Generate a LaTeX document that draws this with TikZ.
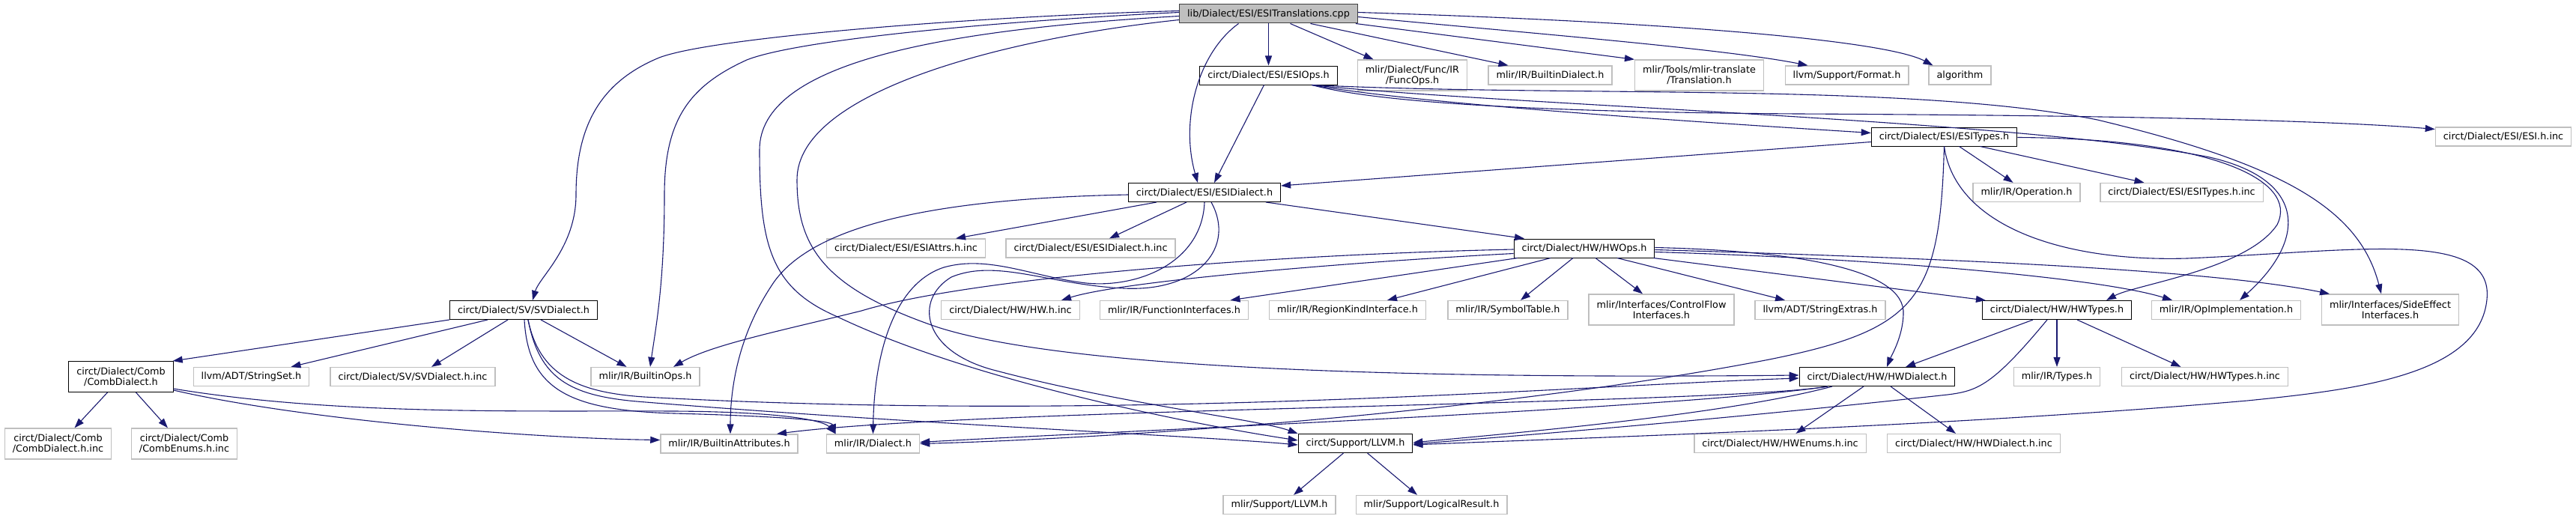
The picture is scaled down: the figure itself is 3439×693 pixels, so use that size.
\documentclass[tikz,border=0pt]{standalone}
\usepackage{fontspec}
\setmainfont{DejaVu Sans}
\usetikzlibrary{arrows.meta, positioning}
\definecolor{edgeblue}{RGB}{25,25,112}
\definecolor{boxgray}{RGB}{191,191,191}
\definecolor{rootgray}{RGB}{191,191,191}

\begin{document}
\begin{tikzpicture}[x=1pt, y=-1pt,
  hdr/.style={rectangle, draw=black, line width=1pt, inner xsep=10.5pt, inner ysep=2pt, minimum height=25pt, align=center, font=\fontsize{12.8}{14}\selectfont},
  ext/.style={hdr, draw=boxgray, line width=1.3pt},
  src/.style={hdr, draw=black!75, fill=rootgray},
  tall/.style={minimum height=41pt},
  arr/.style={-{Triangle[length=13pt, width=9pt]}, draw=edgeblue, line width=1.1pt}
]
\useasboundingbox (0,0) rectangle (3439,693);
\node[src] (root) at (1693.5,18.5) {lib/Dialect/ESI/ESITranslations.cpp};
\node[hdr] (esiops) at (1693.5,100.5) {circt/Dialect/ESI/ESIOps.h};
\node[ext, tall] (funcops) at (1885.5,100.5) {mlir/Dialect/Func/IR\\/FuncOps.h};
\node[ext] (bdialect) at (2069.5,100.5) {mlir/IR/BuiltinDialect.h};
\node[ext, tall] (translation) at (2268.5,100.5) {mlir/Tools/mlir-translate\\/Translation.h};
\node[ext] (format) at (2465.5,100.5) {llvm/Support/Format.h};
\node[ext] (algorithm) at (2616.5,100.5) {algorithm};
\node[hdr] (esitypes) at (2595.5,182.5) {circt/Dialect/ESI/ESITypes.h};
\node[ext] (esihinc) at (3342,182.5) {circt/Dialect/ESI/ESI.h.inc};
\node[hdr] (esidialect) at (1608,257) {circt/Dialect/ESI/ESIDialect.h};
\node[ext] (operation) at (2705.5,257) {mlir/IR/Operation.h};
\node[ext] (esitypesinc) at (2912.5,257) {circt/Dialect/ESI/ESITypes.h.inc};
\node[ext] (esiattrs) at (1209.5,331.5) {circt/Dialect/ESI/ESIAttrs.h.inc};
\node[ext] (esidialectinc) at (1456,331.5) {circt/Dialect/ESI/ESIDialect.h.inc};
\node[hdr] (hwops) at (2115,331.5) {circt/Dialect/HW/HWOps.h};
\node[hdr] (svdialect) at (699,414) {circt/Dialect/SV/SVDialect.h};
\node[ext] (hwinc) at (1349,414) {circt/Dialect/HW/HW.h.inc};
\node[ext] (funciface) at (1567.5,414) {mlir/IR/FunctionInterfaces.h};
\node[ext] (regionkind) at (1799,414) {mlir/IR/RegionKindInterface.h};
\node[ext] (symtable) at (2013,414) {mlir/IR/SymbolTable.h};
\node[ext, tall] (ctrlflow) at (2218,413.5) {mlir/Interfaces/ControlFlow\\Interfaces.h};
\node[ext] (strextras) at (2430,414) {llvm/ADT/StringExtras.h};
\node[hdr] (hwtypes) at (2746,414) {circt/Dialect/HW/HWTypes.h};
\node[ext] (opimpl) at (2972,414) {mlir/IR/OpImplementation.h};
\node[ext, tall] (sideeffect) at (3191,413.5) {mlir/Interfaces/SideEffect\\Interfaces.h};
\node[hdr, tall] (comb) at (161.5,503) {circt/Dialect/Comb\\/CombDialect.h};
\node[ext] (strset) at (335.5,503) {llvm/ADT/StringSet.h};
\node[ext] (svinc) at (551,503) {circt/Dialect/SV/SVDialect.h.inc};
\node[ext] (builtinops) at (861.5,503) {mlir/IR/BuiltinOps.h};
\node[hdr] (hwdialect) at (2506,503) {circt/Dialect/HW/HWDialect.h};
\node[ext] (types) at (2746,503) {mlir/IR/Types.h};
\node[ext] (hwtypesinc) at (2943.5,503) {circt/Dialect/HW/HWTypes.h.inc};
\node[ext, tall] (combinc) at (77.5,592.5) {circt/Dialect/Comb\\/CombDialect.h.inc};
\node[ext, tall] (combenums) at (246,592.5) {circt/Dialect/Comb\\/CombEnums.h.inc};
\node[ext] (battrs) at (973.5,592.5) {mlir/IR/BuiltinAttributes.h};
\node[ext] (dialect) at (1165.5,592.5) {mlir/IR/Dialect.h};
\node[hdr] (llvm) at (1809.5,592) {circt/Support/LLVM.h};
\node[ext] (hwenums) at (2376.5,592) {circt/Dialect/HW/HWEnums.h.inc};
\node[ext] (hwdialectinc) at (2635,592) {circt/Dialect/HW/HWDialect.h.inc};
\node[ext] (mlirllvm) at (1708,674) {mlir/Support/LLVM.h};
\node[ext] (logical) at (1911,674) {mlir/Support/LogicalResult.h};

\draw[arr] (root) -- (esiops);
\draw[arr] ([xshift=-40pt]root.south) .. controls (1600,70) and (1575,160) .. ([xshift=-9pt]esidialect.north);
\draw[arr] ([xshift=29pt]root.south) -- ([xshift=-52pt]funcops.north);
\draw[arr] ([xshift=56pt]root.south) -- ([xshift=-56pt]bdialect.north);
\draw[arr] ([xshift=-3pt]root.south east) -- (translation.north west);
\draw[arr] ([yshift=-4pt]root.east) .. controls (2050,45) and (2300,65) .. ([xshift=-52pt]format.north);
\draw[arr] ([yshift=2pt]root.east) .. controls (2250,30) and (2520,55) .. ([xshift=-36pt]algorithm.north);
\draw[arr] ([yshift=4pt]root.west) .. controls (1300,22) and (950,50) .. (880,77) .. controls (800,110) and (769,170) .. (769,260) .. controls (769,330) and (720,370) .. ([xshift=12pt]svdialect.north);
\draw[arr] ([yshift=2pt]root.west) .. controls (1300,30) and (1060,55) .. (997,80) .. controls (920,115) and (887,160) .. (887,260) .. controls (887,380) and (875,440) .. ([xshift=6.5pt]builtinops.north);
\draw[arr] ([yshift=-3pt]root.west) .. controls (1250,40) and (1014,85) .. (1014,200) .. controls (1014,330) and (1030,385) .. (1118,423) .. controls (1300,510) and (1600,568) .. ([yshift=4pt]llvm.west);
\draw[arr] ([yshift=-8pt]root.west) .. controls (1350,50) and (1064,120) .. (1064,240) .. controls (1064,330) and (1100,385) .. (1252,437) .. controls (1450,500) and (2000,505) .. ([yshift=2pt]hwdialect.west);

\draw[arr] ([xshift=-6pt]esiops.south) -- ([xshift=13pt]esidialect.north);
\draw[arr] ([xshift=58pt]esiops.south) .. controls (1900,140) and (2300,165) .. ([yshift=5pt]esitypes.west);
\draw[arr] ([xshift=58pt]esiops.south) .. controls (1850,140) and (2100,150) .. (2400,152) .. controls (2800,154) and (3100,160) .. ([yshift=10pt]esihinc.west);
\draw[arr] ([xshift=58pt]esiops.south) .. controls (2000,140) and (2700,160) .. (2950,210) .. controls (3080,240) and (3080,320) .. ([xshift=18pt]opimpl.north);
\draw[arr] ([xshift=58pt]esiops.south) .. controls (2100,130) and (2550,110) .. (2800,160) .. controls (3050,220) and (3150,280) .. ([xshift=-12pt]sideeffect.north);

\draw[arr] ([yshift=-7pt]esitypes.west) -- ([yshift=9pt]esidialect.east);
\draw[arr] ([xshift=20pt]esitypes.south) -- ([xshift=-18pt]operation.north);
\draw[arr] ([xshift=48pt]esitypes.south) -- ([xshift=-50pt]esitypesinc.north);
\draw[arr] ([yshift=-1pt]esitypes.east) .. controls (2950,185) and (3070,240) .. (3040,300) .. controls (3000,360) and (2850,380) .. ([xshift=66pt]hwtypes.north);
\draw[arr] (esitypes.south) .. controls (2610,300) and (2750,350) .. (2920,345) .. controls (3150,335) and (3330,305) .. (3320,400) .. controls (3310,500) and (3150,520) .. (3000,535) .. controls (2600,570) and (2100,585) .. ([yshift=-2pt]llvm.east);
\draw[arr] (esitypes.south) .. controls (2590,400) and (2560,440) .. (2362,480) .. controls (2000,550) and (1500,585) .. (dialect.east);

\draw[arr] ([xshift=-64pt]esidialect.south) -- ([xshift=66.5pt]esiattrs.north);
\draw[arr] ([xshift=-24pt]esidialect.south) -- ([xshift=25pt]esidialectinc.north);
\draw[arr] ([xshift=82pt]esidialect.south) -- ([xshift=-80pt]hwops.north);
\draw[arr] ([yshift=-3pt]esidialect.west) .. controls (1250,265) and (1080,300) .. (1029,383) .. controls (985,450) and (975,520) .. ([xshift=1.5pt]battrs.north);
\draw[arr] (esidialect.south) .. controls (1605,350) and (1520,385) .. (1450,378) .. controls (1380,370) and (1320,340) .. (1260,357) .. controls (1190,380) and (1167,480) .. (dialect.north);
\draw[arr] ([xshift=9pt]esidialect.south) .. controls (1650,330) and (1600,390) .. (1500,385) .. controls (1400,380) and (1330,345) .. (1270,370) .. controls (1220,400) and (1230,470) .. (1330,495) .. controls (1500,540) and (1680,560) .. (llvm.north west);

\draw[arr] ([yshift=-1.5pt]hwops.west) .. controls (1700,340) and (1300,370) .. (1150,415) .. controls (1050,440) and (950,460) .. ([xshift=37.5pt]builtinops.north);
\draw[arr] ([yshift=-7pt]hwops.west) .. controls (1800,350) and (1500,375) .. ([xshift=68pt]hwinc.north);
\draw[arr] ([xshift=-89pt]hwops.south) -- ([xshift=75pt]funciface.north);
\draw[arr] ([xshift=-45pt]hwops.south) -- ([xshift=53pt]regionkind.north);
\draw[arr] ([xshift=-15pt]hwops.south) -- ([xshift=17pt]symtable.north);
\draw[arr] ([xshift=15pt]hwops.south) -- ([xshift=-25pt]ctrlflow.north);
\draw[arr] ([xshift=44pt]hwops.south) -- ([xshift=-47pt]strextras.north);
\draw[arr] ([xshift=-2pt]hwops.south east) -- ([xshift=5pt]hwtypes.north west);
\draw[arr] ([yshift=-5pt]hwops.east) .. controls (2500,345) and (2800,370) .. ([xshift=-72pt]opimpl.north);
\draw[arr] ([yshift=-2pt]hwops.east) .. controls (2600,345) and (2950,360) .. ([xshift=-81pt]sideeffect.north);
\draw[arr] ([yshift=1pt]hwops.east) .. controls (2400,335) and (2545,360) .. (2541,420) .. controls (2540,450) and (2525,475) .. ([xshift=13pt]hwdialect.north);

\draw[arr] ([xshift=-32pt]hwtypes.south) -- ([xshift=38pt]hwdialect.north);
\draw[arr] ([xshift=-13pt]hwtypes.south) .. controls (2660,515) and (2640,522) .. (2600,527) .. controls (2300,560) and (2050,580) .. ([yshift=-1pt]llvm.east);
\draw[arr] (hwtypes) -- (types);
\draw[arr] ([xshift=27pt]hwtypes.south) -- ([xshift=-32pt]hwtypesinc.north);

\draw[arr] ([xshift=-18pt]hwdialect.south) -- ([xshift=21pt]hwenums.north);
\draw[arr] ([xshift=18pt]hwdialect.south) -- ([xshift=-24pt]hwdialectinc.north);
\draw[arr] ([xshift=-66pt]hwdialect.south) .. controls (2300,540) and (1300,545) .. ([xshift=63.5pt]battrs.north);
\draw[arr] ([xshift=-66pt]hwdialect.south) .. controls (2250,545) and (1500,575) .. ([yshift=2pt]dialect.east);
\draw[arr] ([xshift=-60pt]hwdialect.south) .. controls (2300,555) and (2000,580) .. ([yshift=1pt]llvm.east);

\draw[arr] (svdialect.south west) -- ([xshift=-1pt]comb.north east);
\draw[arr] ([xshift=-48pt]svdialect.south) -- ([xshift=53pt]strset.north);
\draw[arr] ([xshift=-21pt]svdialect.south) -- ([xshift=25pt]svinc.north);
\draw[arr] ([xshift=23pt]svdialect.south) -- ([xshift=-25pt]builtinops.north);
\draw[arr] ([xshift=1pt]svdialect.south) .. controls (705,520) and (760,548) .. (900,552) .. controls (1050,556) and (1110,562) .. ([xshift=-50pt]dialect.north);
\draw[arr] ([xshift=6pt]svdialect.south) .. controls (720,505) and (760,528) .. (850,536) .. controls (1200,565) and (1600,582) .. ([yshift=-2pt]llvm.west);
\draw[arr] ([xshift=6pt]svdialect.south) .. controls (720,500) and (770,524) .. (860,530) .. controls (1500,565) and (2100,515) .. ([yshift=-2pt]hwdialect.west);

\draw[arr] ([xshift=-18pt]comb.south) -- ([xshift=22pt]combinc.north);
\draw[arr] ([xshift=20pt]comb.south) -- ([xshift=-22pt]combenums.north);
\draw[arr] ([yshift=-18pt]comb.east) .. controls (400,560) and (700,585) .. ([yshift=5pt]battrs.west);
\draw[arr] ([yshift=-16pt]comb.east) .. controls (450,555) and (700,548) .. (900,549) .. controls (1050,550) and (1100,562) .. ([xshift=-50pt]dialect.north);

\draw[arr] ([xshift=-16pt]llvm.south) -- ([xshift=19pt]mlirllvm.north);
\draw[arr] ([xshift=16pt]llvm.south) -- ([xshift=-19pt]logical.north);
\end{tikzpicture}
\end{document}
